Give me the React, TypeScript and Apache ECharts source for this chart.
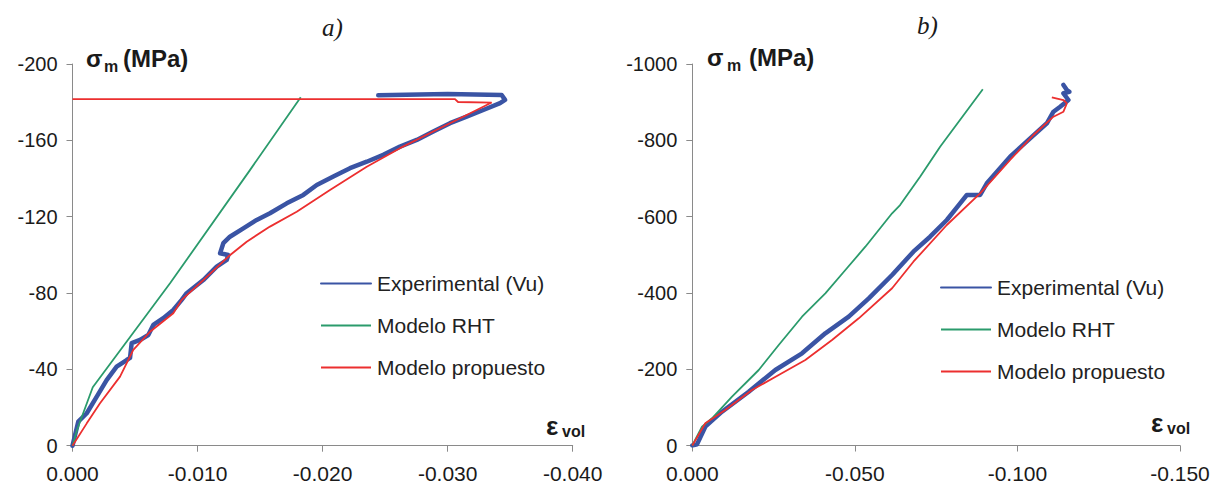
import React, { useEffect, useRef } from "react";
import * as echarts from "echarts";

const FONT = "'Liberation Sans', Arial, Helvetica, sans-serif";
const SERIF = "'Liberation Serif', 'Times New Roman', serif";
const BLUE = "#3a54a4";
const GREEN = "#2b9b6c";
const RED = "#ec2f2f";
const AXIS = "#8a8a8a";

const NAMES = ["Experimental (Vu)", "Modelo RHT", "Modelo propuesto"];

// Panel a) : [epsilon_vol, sigma_m (MPa)]
const expA: [number, number][] = [
  [0, 0], [-0.00046, -12.6], [-0.00114, -17.0], [-0.00194, -25.7], [-0.00273, -34.4],
  [-0.00353, -41.4], [-0.00433, -44.9], [-0.0046, -46.0], [-0.00473, -53.7], [-0.0054, -55.4],
  [-0.00606, -58.0], [-0.00646, -63.3], [-0.00726, -66.8], [-0.00806, -71.1], [-0.00873, -76.4],
  [-0.00913, -79.9], [-0.01046, -86.8], [-0.01153, -93.8], [-0.01233, -97.3], [-0.01246, -99.9],
  [-0.0118, -100.8], [-0.01206, -106.1], [-0.01259, -109.5], [-0.01366, -113.9], [-0.01473, -118.3],
  [-0.01579, -121.8], [-0.01713, -127.0], [-0.01846, -131.4], [-0.01953, -136.6], [-0.02086, -141.0],
  [-0.02219, -145.4], [-0.02353, -148.8], [-0.02485, -152.4], [-0.02619, -156.7], [-0.02753, -160.2],
  [-0.02885, -164.6], [-0.03019, -169.0], [-0.03152, -172.4], [-0.03285, -175.9], [-0.03419, -179.5],
  [-0.03459, -181.2], [-0.03432, -183.8], [-0.03, -184.3], [-0.02445, -183.6],
];
const rhtA: [number, number][] = [
  [0, 0], [-0.00036, -8.2], [-0.00162, -30.6], [-0.0078, -85.1], [-0.01419, -144.4], [-0.01825, -182.6],
];
const propA: [number, number][] = [
  [0, 0], [-0.00114, -11.7], [-0.0022, -22.2], [-0.0038, -36.2], [-0.00486, -50.2], [-0.0062, -59.7],
  [-0.00806, -69.4], [-0.00873, -76.4], [-0.01046, -86.8], [-0.01246, -99.1], [-0.01393, -106.9],
  [-0.01579, -114.8], [-0.01793, -122.6], [-0.02059, -134.0], [-0.02353, -146.2], [-0.02619, -155.9],
  [-0.02885, -164.6], [-0.03152, -173.3], [-0.03352, -179.8], [-0.03083, -180.1], [-0.03059, -181.6],
  [0, -181.6],
];

// Panel b)
const expB: [number, number][] = [
  [0, 0], [-0.00145, -3], [-0.004, -49.3], [-0.00914, -88.6], [-0.01735, -141.0], [-0.02554, -197.9],
  [-0.03375, -241.7], [-0.04092, -294.1], [-0.04812, -337.6], [-0.05428, -385.8], [-0.06145, -446.9],
  [-0.068, -508.0], [-0.07314, -547.3], [-0.07828, -591.1], [-0.08237, -634.9], [-0.08443, -656.6],
  [-0.08852, -656.6], [-0.09058, -687.3], [-0.09775, -757.0], [-0.10391, -805.2], [-0.10905, -844.6],
  [-0.11108, -875.0], [-0.11314, -888.1], [-0.11569, -905.6], [-0.11415, -923.2], [-0.11598, -927.0],
  [-0.1152, -931.9], [-0.11415, -945.0],
];
const rhtB: [number, number][] = [
  [0, 0], [-0.00298, -49.3], [-0.00606, -71.3], [-0.01222, -127.9], [-0.02043, -197.9], [-0.02658, -263.4],
  [-0.03375, -337.6], [-0.04092, -398.9], [-0.04708, -460.0], [-0.05323, -521.1], [-0.06145, -608.7],
  [-0.06391, -630.4], [-0.07006, -704.6], [-0.07622, -783.2], [-0.08935, -933.7],
];
const propB: [number, number][] = [
  [0, 0], [-0.004, -58.2], [-0.01015, -93.1], [-0.01837, -145.5], [-0.02658, -184.8], [-0.03477, -224.1],
  [-0.04298, -276.5], [-0.0512, -333.4], [-0.06145, -412.1], [-0.068, -481.8], [-0.07828, -578.0],
  [-0.08852, -661.1], [-0.09775, -748.4], [-0.10492, -813.9], [-0.11108, -861.9], [-0.11415, -875.0],
  [-0.1152, -897.0], [-0.11415, -905.6], [-0.11058, -912.7],
];

function xAxisCfg(grid: number, min: number, interval: number) {
  return {
    type: "value",
    gridIndex: grid,
    min,
    max: 0,
    interval,
    inverse: true,
    axisLine: { show: true, onZero: false, lineStyle: { color: AXIS, width: 1 } },
    axisTick: { show: true, length: 6, lineStyle: { color: AXIS } },
    splitLine: { show: false },
    axisLabel: {
      fontSize: 21,
      fontFamily: FONT,
      color: "#1a1a1a",
      margin: 17,
      showMinLabel: true,
      showMaxLabel: true,
      formatter: (v: number) => v.toFixed(3),
    },
  };
}

function yAxisCfg(grid: number, min: number, interval: number) {
  return {
    type: "value",
    gridIndex: grid,
    min,
    max: 0,
    interval,
    inverse: true,
    axisLine: { show: true, onZero: false, lineStyle: { color: AXIS, width: 1 } },
    axisTick: { show: true, length: 6, lineStyle: { color: AXIS } },
    splitLine: { show: false },
    axisLabel: {
      fontSize: 20,
      fontFamily: FONT,
      color: "#1a1a1a",
      margin: 15,
      showMinLabel: true,
      showMaxLabel: true,
      formatter: (v: number) => String(Math.round(v)),
    },
  };
}

function seriesFor(idx: number, exp: any, rht: any, prop: any) {
  const common = { type: "line", xAxisIndex: idx, yAxisIndex: idx, symbol: "none", showSymbol: false };
  return [
    { ...common, name: NAMES[0], data: exp, itemStyle: { color: BLUE }, lineStyle: { color: BLUE, width: 4.5, cap: "round", join: "round" }, z: 2 },
    { ...common, name: NAMES[1], data: rht, itemStyle: { color: GREEN }, lineStyle: { color: GREEN, width: 1.8 }, z: 3 },
    { ...common, name: NAMES[2], data: prop, itemStyle: { color: RED }, lineStyle: { color: RED, width: 1.8 }, z: 4 },
  ];
}

function legendCfg(left: number, top: number) {
  return {
    orient: "vertical",
    left,
    top,
    padding: 0,
    itemWidth: 50,
    itemHeight: 14,
    itemGap: 21,
    selectedMode: false,
    itemStyle: { opacity: 0 },
    textStyle: { fontSize: 21, fontFamily: FONT, color: "#222", padding: [0, 0, 0, 1] },
    data: NAMES,
  };
}

function txt(x: number, y: number, text: string, size: number, opts: any = {}) {
  return {
    type: "text",
    x,
    y,
    style: {
      text,
      fontSize: size,
      fontFamily: opts.family || FONT,
      fontWeight: opts.weight || "bold",
      fontStyle: opts.style || "normal",
      fill: opts.fill || "#1a1a1a",
      verticalAlign: "middle",
      align: "left",
    },
  };
}

export default function App() {
  const ref = useRef<HTMLDivElement>(null);
  useEffect(() => {
    if (!ref.current) return;
    const chart = echarts.init(ref.current, undefined, { renderer: "svg" });
    chart.setOption({
      animation: false,
      backgroundColor: "#ffffff",
      grid: [
        { left: 72.5, top: 64, width: 500.2, height: 381.7 },
        { left: 692.3, top: 64, width: 487.7, height: 381.5 },
      ],
      xAxis: [xAxisCfg(0, -0.04, 0.01), xAxisCfg(1, -0.15, 0.05)],
      yAxis: [yAxisCfg(0, -200, 40), yAxisCfg(1, -1000, 200)],
      legend: [legendCfg(320, 273), legendCfg(940, 277)],
      series: [...seriesFor(0, expA, rhtA, propA), ...seriesFor(1, expB, rhtB, propB)],
      graphic: [
        txt(322, 27, "a)", 25, { family: SERIF, weight: "normal", style: "italic" }),
        txt(917, 25, "b)", 25, { family: SERIF, weight: "normal", style: "italic" }),
        txt(86, 58, "σ", 24),
        txt(104, 66, "m", 16),
        txt(123, 58, "(MPa)", 24),
        txt(707, 57, "σ", 24),
        txt(727, 65, "m", 16),
        txt(749, 57, "(MPa)", 24),
        txt(546, 426, "ε", 26),
        txt(562, 431, "vol", 16),
        txt(1151, 423, "ε", 26),
        txt(1167, 428, "vol", 16),
      ],
    });
    return () => chart.dispose();
  }, []);
  return (
    <div
      ref={ref}
      style={{ position: "absolute", left: 0, top: 0, width: 1215, height: 487, background: "#fff" }}
    />
  );
}
